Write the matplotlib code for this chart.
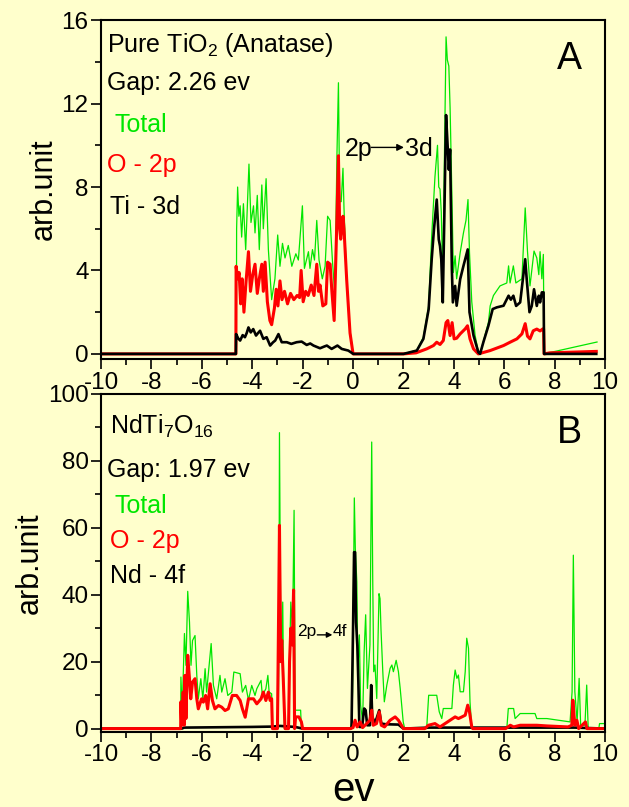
import matplotlib
matplotlib.use("Agg")
import matplotlib.pyplot as plt
from matplotlib.ticker import MultipleLocator

plt.rcParams['font.family'] = ['Liberation Sans', 'DejaVu Sans']
plt.rcParams['mathtext.fontset'] = 'custom'
plt.rcParams['mathtext.rm'] = 'Liberation Sans'
plt.rcParams['mathtext.it'] = 'Liberation Sans:italic'
plt.rcParams['axes.unicode_minus'] = False

BG = '#FFFFCC'
GREEN = '#00E600'
RED = '#FF0000'
BLACK = '#000000'

# ---------------- Panel A: pure TiO2 (anatase) ----------------
ev_total_a = [-10.0, -4.63, -4.62, -4.58, -4.53, -4.48, -4.42, -4.35, -4.26, -4.13, -4.05,
              -3.95, -3.89, -3.80, -3.72, -3.62, -3.56, -3.45, -3.36, -3.23, -3.10, -2.99,
              -2.90, -2.80, -2.70, -2.57, -2.43, -2.27, -2.17, -2.01, -1.93, -1.77, -1.71,
              -1.61, -1.53, -1.44, -1.35, -1.22, -1.11, -1.01, -0.91, -0.82, -0.72, -0.64,
              -0.58, -0.53, -0.47, -0.40, -0.36, -0.25, -0.12, 0.0,
              2.0, 2.53, 2.79, 3.0, 3.12, 3.25, 3.35, 3.40, 3.45, 3.50, 3.56, 3.62, 3.69,
              3.74, 3.80, 3.85, 3.92, 3.98, 4.05, 4.11, 4.25, 4.38, 4.48, 4.56, 4.62, 4.71,
              4.84, 4.97, 5.04, 5.17, 5.37, 5.44, 5.57, 5.83, 6.10, 6.17, 6.23, 6.36, 6.46,
              6.70, 6.83, 6.92, 7.02, 7.18, 7.29, 7.37, 7.42, 7.49, 7.55, 7.58, 7.94, 9.68]
total_a = [0.0, 0.0, 6.0, 8.0, 6.6, 7.1, 5.6, 7.2, 5.0, 9.1, 6.3,
           7.1, 5.8, 7.6, 5.0, 8.1, 6.0, 8.4, 5.0, 2.6, 3.6, 5.7,
           4.2, 5.3, 4.6, 5.2, 4.2, 4.8, 4.5, 7.1, 4.1, 4.9, 4.1,
           5.0, 4.5, 6.4, 4.5, 3.6, 4.2, 6.6, 6.4, 4.5, 2.8, 9.5,
           13.0, 7.3, 7.3, 8.9, 7.0, 3.3, 1.1, 0.0,
           0.0, 0.18, 0.8, 2.3, 5.65, 8.5, 10.0, 8.0, 7.9, 6.8, 3.6, 9.0, 15.2,
           14.1, 13.8, 11.8, 7.7, 3.9, 4.7, 3.6, 4.85, 5.8, 6.4, 7.4, 4.85, 2.5,
           0.9, 0.1, 0.0, 0.6, 1.5, 2.3, 2.8, 3.26, 3.4, 4.22, 3.4, 4.22, 3.4,
           3.6, 7.0, 4.93, 3.26, 4.93, 4.6, 3.8, 4.9, 3.6, 4.77, 0.0, 0.1, 0.57]

ev_o2p_a = [-10.0, -4.65, -4.64, -4.58, -4.52, -4.46, -4.40, -4.33, -4.25, -4.15, -4.07,
            -3.98, -3.89, -3.80, -3.72, -3.62, -3.56, -3.49, -3.40, -3.30, -3.23, -3.12,
            -3.05, -2.98, -2.90, -2.82, -2.72, -2.60, -2.48, -2.35, -2.22, -2.12, -2.06,
            -1.98, -1.88, -1.78, -1.66, -1.55, -1.44, -1.37, -1.31, -1.20, -1.08, -1.01,
            -0.91, -0.84, -0.75, -0.64, -0.58, -0.53, -0.49, -0.40, -0.36, -0.25, -0.12,
            0.0, 2.0, 2.5, 2.92, 3.19, 3.32, 3.45, 3.58, 3.69, 3.76, 3.85, 3.93, 4.01,
            4.11, 4.25, 4.45, 4.54, 4.64, 4.78, 4.97, 5.44, 5.97, 6.23, 6.50, 6.70, 6.83,
            6.92, 7.02, 7.15, 7.29, 7.42, 7.53, 7.56, 7.58, 7.80, 9.65]
o2p_a = [0.0, 0.0, 4.2, 3.6, 3.9, 2.4, 3.6, 2.0, 3.4, 4.9, 3.0,
         3.8, 4.3, 2.9, 3.6, 4.3, 3.0, 4.4, 2.5, 1.6, 1.4, 2.2,
         3.1, 2.3, 3.5, 2.6, 3.0, 2.4, 2.9, 2.6, 2.8, 2.7, 4.0,
         2.5, 3.0, 2.8, 3.3, 2.8, 4.3, 3.0, 3.3, 2.3, 2.4, 4.4,
         4.3, 3.0, 1.6, 6.5, 9.5, 6.0, 5.5, 6.6, 6.0, 3.5, 1.0,
         0.0, 0.0, 0.05, 0.24, 0.4, 0.56, 0.45, 0.64, 1.5, 1.6, 0.88, 1.5, 0.72,
         0.75, 0.96, 1.2, 1.35, 0.72, 0.24, 0.0, 0.16, 0.4, 0.56, 0.72, 0.96, 1.45,
         0.85, 0.72, 1.11, 1.19, 1.1, 1.2, 1.2, 0.0, 0.05, 0.12]

ev_ti3d_a = [-10.0, -4.65, -4.64, -4.56, -4.48, -4.38, -4.29, -4.22, -4.15, -4.06, -3.96,
             -3.85, -3.77, -3.69, -3.56, -3.43, -3.29, -3.18, -3.09, -2.96, -2.83, -2.63,
             -2.45, -2.24, -2.04, -1.84, -1.70, -1.57, -1.31, -1.15, -1.04, -0.85, -0.62,
             -0.45, -0.19, 0.01, 2.0, 2.53, 2.79, 3.0, 3.12, 3.21, 3.32, 3.40, 3.45, 3.50,
             3.56, 3.62, 3.69, 3.74, 3.80, 3.85, 3.92, 3.96, 4.05, 4.11, 4.25, 4.38, 4.55,
             4.62, 4.78, 4.97, 5.04, 5.17, 5.37, 5.54, 5.70, 5.97, 6.17, 6.26, 6.36, 6.47,
             6.63, 6.83, 6.89, 7.0, 7.09, 7.18, 7.29, 7.37, 7.42, 7.49, 7.56, 7.58, 9.65]
ti3d_a = [0.0, 0.0, 0.95, 0.75, 0.64, 0.9, 0.8, 1.0, 1.27, 1.03, 1.19,
          0.88, 1.0, 1.11, 0.72, 0.8, 0.4, 0.55, 0.64, 0.95, 0.56, 0.56,
          0.48, 0.56, 0.59, 0.43, 0.5, 0.4, 0.27, 0.35, 0.4, 0.24, 0.4,
          0.24, 0.16, 0.0, 0.0, 0.16, 0.72, 2.15, 4.54, 5.97, 7.4, 5.49, 5.17, 4.54,
          2.47, 6.5, 11.45, 10.26, 8.83, 9.8, 4.06, 2.47, 3.26, 2.31, 3.58, 4.22, 5.01,
          2.0, 0.88, 0.08, 0.0, 0.56, 1.35, 2.15, 2.23, 2.31, 2.79, 2.6, 2.79, 2.3,
          2.47, 4.54, 3.58, 2.0, 2.3, 3.1, 2.3, 2.79, 2.47, 2.95, 2.95, 0.0, 0.0]

# ---------------- Panel B: NdTi7O16 ----------------
ev_total_b = [-10.0, -6.84, -6.83, -6.78, -6.69, -6.63, -6.56, -6.49, -6.43, -6.37, -6.27,
              -6.20, -6.14, -6.04, -5.96, -5.87, -5.81, -5.70, -5.63, -5.54, -5.41, -5.28,
              -5.21, -5.08, -4.97, -4.81, -4.73, -4.48, -4.39, -4.26, -4.15, -4.02, -3.89,
              -3.82, -3.65, -3.60, -3.46, -3.38, -3.33, -3.23, -3.20, -2.97, -2.94, -2.92,
              -2.88, -2.84, -2.79, -2.76, -2.72, -2.56, -2.52, -2.47, -2.40, -2.34, -2.30,
              -2.08, -2.05, -0.10, -0.05, -0.02, 0.05, 0.09, 0.15, 0.19, 0.25, 0.30, 0.38,
              0.44, 0.50, 0.57, 0.67, 0.74, 0.78, 0.82, 0.87, 0.94, 1.03, 1.07, 1.11, 1.18,
              1.24, 1.34, 1.47, 1.54, 1.60, 1.71, 1.80, 1.87, 1.93, 1.99, 2.05, 2.92, 3.00,
              3.32, 3.42, 3.52, 3.58, 3.92, 3.98, 4.05, 4.12, 4.18, 4.25, 4.38, 4.45, 4.51,
              4.58, 4.64, 4.71, 6.10, 6.16, 6.37, 6.43, 6.63, 7.22, 7.29, 7.69, 8.61, 8.69,
              8.74, 8.80, 8.89, 8.97, 9.03, 9.20, 9.27, 9.33, 9.75, 9.78, 10.0]
total_b = [0.0, 0.0, 15.4, 5.0, 28.4, 18.9, 41.0, 31.8, 18.9, 26.3, 27.8,
           15.9, 8.9, 14.9, 8.9, 17.9, 10.9, 19.9, 25.4, 12.9, 8.9, 15.9,
           10.9, 14.9, 9.9, 10.9, 16.9, 16.4, 10.9, 12.9, 8.5, 12.9, 9.9,
           11.9, 14.4, 9.9, 11.9, 15.9, 10.9, 10.4, 0.0, 0.0, 30.0, 88.4,
           40.0, 20.0, 37.8, 15.0, 0.0, 0.0, 20.0, 37.8, 30.0, 65.2, 5.5,
           5.5, 0.0, 0.0, 2.0, 11.0, 68.9, 53.7, 43.8, 17.0, 28.0, 7.0, 2.0,
           23.0, 34.0, 12.0, 25.0, 85.6, 44.8, 17.0, 19.0, 9.0, 40.3, 38.8, 29.3, 17.0,
           8.0, 13.0, 18.0, 19.0, 17.0, 20.4, 17.0, 12.0, 7.0, 2.0, 0.0, 0.0, 9.95,
           9.95, 5.0, 3.0, 6.0, 6.0, 13.0, 17.5, 15.0, 16.0, 11.0, 11.0, 17.0, 27.0,
           24.0, 8.0, 0.0, 0.0, 6.0, 6.0, 3.0, 4.5, 4.5, 3.0, 3.0, 2.0, 11.0,
           51.8, 11.0, 2.0, 15.0, 1.0, 1.0, 13.0, 0.0, 0.0, 1.5, 1.5]

ev_o2p_b = [-10.0, -6.84, -6.83, -6.80, -6.74, -6.70, -6.67, -6.63, -6.56, -6.49, -6.44,
            -6.37, -6.27, -6.20, -6.14, -6.01, -5.94, -5.85, -5.77, -5.67, -5.58, -5.48,
            -5.34, -5.21, -5.08, -4.95, -4.79, -4.62, -4.48, -4.39, -4.28, -4.15, -3.95,
            -3.82, -3.65, -3.56, -3.46, -3.36, -3.29, -3.23, -3.20, -3.00, -2.96, -2.92,
            -2.87, -2.83, -2.77, -2.70, -2.56, -2.52, -2.47, -2.41, -2.36, -2.32, -2.28,
            -2.15, -2.05, -2.00, -0.10, 0.0, 0.08, 0.16, 0.28, 0.38, 0.50, 0.67, 0.74,
            0.80, 0.93, 1.04, 1.12, 1.25, 1.47, 1.67, 1.80, 2.0, 2.85, 2.99, 3.25, 3.45,
            3.65, 3.85, 4.05, 4.18, 4.32, 4.45, 4.55, 4.62, 4.71, 4.75, 6.05, 6.24, 6.37,
            6.63, 7.29, 7.69, 8.53, 8.68, 8.72, 8.80, 8.88, 8.95, 9.22, 9.28, 10.0]
o2p_b = [0.0, 0.0, 8.0, 1.0, 10.9, 1.0, 15.9, 3.0, 21.9, 14.9, 8.9,
         13.9, 14.9, 8.9, 5.9, 8.9, 7.9, 9.9, 5.9, 13.4, 8.4, 5.9,
         6.9, 6.4, 5.4, 5.9, 9.9, 9.9, 8.4, 5.9, 3.4, 8.9, 8.9,
         7.4, 8.9, 10.9, 8.4, 10.9, 8.4, 8.9, 0.0, 0.0, 30.0, 60.7,
         20.0, 26.4, 15.0, 0.0, 0.0, 20.0, 30.0, 25.0, 41.4, 0.0, 3.5,
         3.5, 2.0, 0.0, 0.0, 0.3, 2.5, 0.5, 2.0, 0.3, 1.2, 2.5, 5.5,
         1.0, 1.5, 5.0, 1.0, 0.5, 2.5, 3.5, 2.5, 0.0, 0.0, 1.0, 1.5, 0.5,
         1.5, 2.5, 3.5, 3.0, 3.5, 4.0, 7.0, 5.0, 0.5, 0.0, 0.0, 1.0, 0.5,
         1.0, 1.0, 0.8, 0.5, 1.0, 8.5, 1.0, 2.5, 0.0, 2.0, 0.0, 0.0]

ev_nd4f_b = [-10.0, -6.80, -6.70, -4.00, -3.20, -2.90, -2.30, -2.00, -0.10, -0.06, -0.04,
             0.0, 0.04, 0.08, 0.12, 0.17, 0.21, 0.25, 0.36, 0.44, 0.50, 0.56, 0.67, 0.72,
             0.76, 0.87, 1.04, 1.12, 1.30, 1.80, 2.00, 3.00, 4.70, 6.00, 8.80, 10.0]
nd4f_b = [0.0, 0.0, 0.3, 0.5, 0.6, 0.8, 0.5, 0.0, 0.0, 0.5, 11.0,
          30.0, 52.7, 52.7, 31.8, 24.8, 14.0, 0.5, 0.5, 6.0, 5.5, 1.0, 1.0, 13.0,
          3.6, 1.6, 5.5, 1.5, 1.3, 1.2, 0.0, 0.3, 0.3, 0.3, 0.3, 0.0]

x_ticks = [-10, -8, -6, -4, -2, 0, 2, 4, 6, 8, 10]

fig = plt.figure(figsize=(6.29, 8.07), dpi=100, facecolor=BG)
ax_a = fig.add_axes([0.1606, 0.555, 0.8014, 0.420])
ax_b = fig.add_axes([0.1606, 0.093, 0.8014, 0.419])


def style_axes(ax, ymax, ymajor, yminor, ybottom):
    ax.set_facecolor(BG)
    ax.set_xlim(-10, 10)
    ax.set_ylim(ybottom, ymax)
    ax.set_xticks(x_ticks)
    ax.xaxis.set_minor_locator(MultipleLocator(1))
    ax.yaxis.set_major_locator(MultipleLocator(ymajor))
    ax.yaxis.set_minor_locator(MultipleLocator(yminor))
    ax.tick_params(which='both', direction='out', top=False, right=False,
                   labelsize=17.5, width=1.2, colors='black', pad=2)
    ax.tick_params(which='major', length=7)
    ax.tick_params(which='minor', length=4)
    for sp in ax.spines.values():
        sp.set_linewidth(1.5)
    ax.set_ylabel('arb.unit', fontsize=22, labelpad=2)


# Panel A
ax_a.plot(ev_total_a, total_a, color=GREEN, lw=0.9)
ax_a.plot(ev_o2p_a, o2p_a, color=RED, lw=2.2)
ax_a.plot(ev_ti3d_a, ti3d_a, color=BLACK, lw=1.9)
style_axes(ax_a, 16, 4, 2, -0.25)

ax_a.text(0.012, 0.926, r'Pure TiO$_\mathregular{2}$ (Anatase)', transform=ax_a.transAxes,
          fontsize=18, va='center', ha='left')
ax_a.text(0.012, 0.814, 'Gap: 2.26 ev', transform=ax_a.transAxes, fontsize=18, va='center')
ax_a.text(0.026, 0.690, 'Total', transform=ax_a.transAxes, fontsize=18, va='center', color=GREEN)
ax_a.text(0.012, 0.572, 'O - 2p', transform=ax_a.transAxes, fontsize=18, va='center', color=RED)
ax_a.text(0.018, 0.448, 'Ti - 3d', transform=ax_a.transAxes, fontsize=18, va='center')
ax_a.text(0.93, 0.885, 'A', transform=ax_a.transAxes, fontsize=27, va='center', ha='center')
ax_a.text(-0.32, 9.8, '2p', fontsize=18, va='center', ha='left')
ax_a.text(2.06, 9.8, '3d', fontsize=18, va='center', ha='left')
ax_a.annotate('', xy=(2.02, 9.9), xytext=(0.72, 9.9),
              arrowprops=dict(arrowstyle='-|>', color='black', lw=1.0, mutation_scale=10,
                              shrinkA=0, shrinkB=0))

# Panel B
ax_b.plot(ev_total_b, total_b, color=GREEN, lw=0.9)
ax_b.plot(ev_nd4f_b, nd4f_b, color=BLACK, lw=1.9)
ax_b.plot(ev_o2p_b, o2p_b, color=RED, lw=2.2)
style_axes(ax_b, 100, 20, 10, -1.0)
ax_b.set_xlabel('ev', fontsize=29, labelpad=3)

ax_b.text(0.018, 0.905, r'NdTi$_\mathregular{7}$O$_\mathregular{16}$', transform=ax_b.transAxes,
          fontsize=18, va='center', ha='left')
ax_b.text(0.012, 0.775, 'Gap: 1.97 ev', transform=ax_b.transAxes, fontsize=18, va='center')
ax_b.text(0.026, 0.668, 'Total', transform=ax_b.transAxes, fontsize=18, va='center', color=GREEN)
ax_b.text(0.018, 0.565, 'O - 2p', transform=ax_b.transAxes, fontsize=18, va='center', color=RED)
ax_b.text(0.018, 0.462, 'Nd - 4f', transform=ax_b.transAxes, fontsize=18, va='center')
ax_b.text(0.93, 0.885, 'B', transform=ax_b.transAxes, fontsize=27, va='center', ha='center')
ax_b.text(-2.22, 29.0, '2p', fontsize=12.5, va='center', ha='left')
ax_b.text(-0.80, 29.0, '4f', fontsize=12.5, va='center', ha='left')
ax_b.annotate('', xy=(-0.82, 28.0), xytext=(-1.42, 28.0),
              arrowprops=dict(arrowstyle='-|>', color='black', lw=1.0, mutation_scale=8,
                              shrinkA=0, shrinkB=0))

fig.savefig('out.png', dpi=100, facecolor=BG)
